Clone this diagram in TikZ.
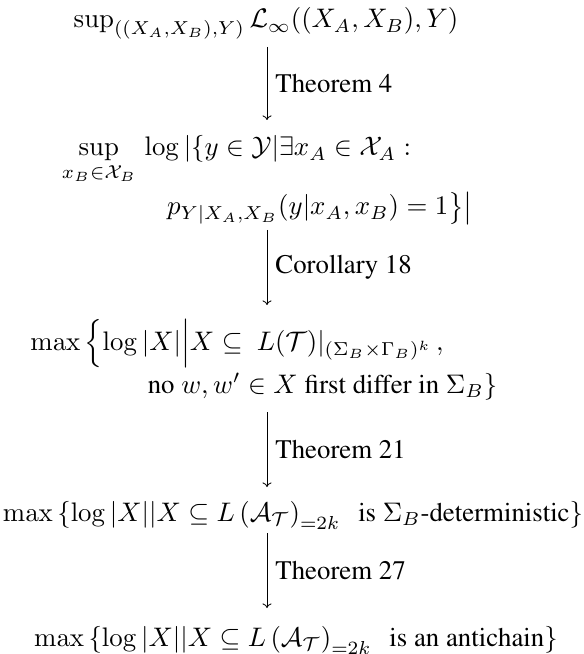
\documentclass[tikz,border=0pt]{standalone}
\usepackage[T1]{fontenc}
\renewcommand{\rmdefault}{ptm}
\usepackage{amsmath,amssymb}
\usetikzlibrary{arrows.meta,calc}
\newcommand\lineFour{$\max\left\{\log|X||X\subseteq L\left(\mathcal{A}_{\mathcal{T}}\right)_{=2k}\text{\ \ is }\Sigma_B\text{-deterministic}\right\}$}
\newcommand\lineFive{$\max\left\{\log|X||X\subseteq L\left(\mathcal{A}_{\mathcal{T}}\right)_{=2k}\text{\ \ is an antichain}\right\}$}
\newlength\wfour
\begin{document}
\settowidth\wfour{\lineFour}%
\pgfmathsetmacro\unitpx{\wfour/580}%
\begin{tikzpicture}[x=\unitpx pt,y=-\unitpx pt,
  expr/.style={anchor=base,inner sep=0pt,outer sep=0pt},
  arr/.style={-{To[length=1.7pt,width=3.4pt]},line width=0.3pt},
  lbl/.style={anchor=west,inner sep=0pt}]
\useasboundingbox (0,0) rectangle (584,654);
\coordinate (ax) at (267,0);
\node[expr] (n1) at (266,28) {$\sup_{((X_A,X_B),Y)}\mathcal{L}_\infty((X_A,X_B),Y)$};
\node[expr] (n2a) at (236.5,156) {$\displaystyle\sup_{x_B\in\mathcal{X}_B}\,\log|\{y\in\mathcal{Y}|\exists x_A\in\mathcal{X}_A:$};
\node[expr] (n2b) at (320,215) {$p_{Y|X_A,X_B}(y|x_A,x_B)=1\bigr\}\bigr|$};
\node[expr] (n3a) at (237,350) {$\max\,\Bigl\{\log|X|\Big|X\subseteq\ L(\mathcal{T})|_{(\Sigma_B\times\Gamma_B)^k}\,,$};
\node[expr] (n3b) at (322.5,393) {no $w,w'\in X$ first differ in $\Sigma_B\}$};
\node[expr] (n4) at (293,521) {\lineFour};
\node[expr] (n5) at (296,646) {\lineFive};
\draw[arr] ($(n1.base -| ax)+(0,19)$) -- ($(n2a.base -| ax)+(0,-36)$)
  node[lbl,midway,xshift=3pt] (l1) {Theorem 4};
\draw[arr] ($(n2b.base -| ax)+(0,15)$) -- ($(n3a.base -| ax)+(0,-45)$)
  node[lbl,midway,xshift=3pt] (l2) {Corollary 18};
\draw[arr] ($(n3b.base -| ax)+(0,19)$) -- ($(n4.base -| ax)+(0,-34)$)
  node[lbl,midway,xshift=3pt] (l3) {Theorem 21};
\draw[arr] ($(n4.base -| ax)+(0,12)$) -- ($(n5.base -| ax)+(0,-38)$)
  node[lbl,midway,xshift=3pt] (l4) {Theorem 27};
\end{tikzpicture}
\end{document}
